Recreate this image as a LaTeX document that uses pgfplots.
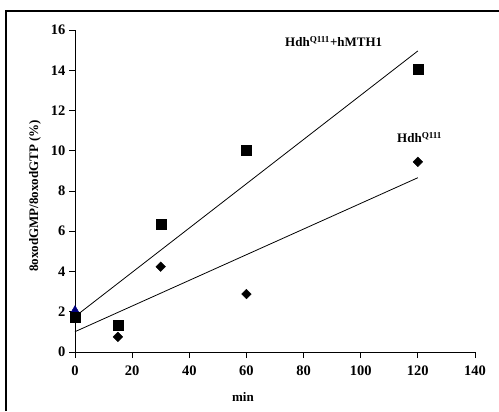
\documentclass[border=0pt]{standalone}
\usepackage{fontspec}
\setmainfont{Liberation Serif}
\usepackage{pgfplots}
\pgfplotsset{compat=1.18}
\definecolor{navyblue}{RGB}{0,0,128}
\begin{document}
\begin{tikzpicture}[x=1bp,y=1bp]
\useasboundingbox (0,0) rectangle (499,411);
\fill[white] (0,0) rectangle (499,411);
\draw[line width=2.3bp,black] (6.2,0) -- (6.2,400.3) -- (499,400.3);
\begin{axis}[
  at={(75bp,59bp)}, anchor=south west,
  scale only axis, width=400bp, height=322bp,
  xmin=0, xmax=140, ymin=0, ymax=16,
  axis lines=left, axis line style={-, line width=0.9bp},
  xtick={0,20,...,140}, ytick={0,2,...,16},
  tick align=outside, major tick length=6bp,
  tick style={black, line width=0.9bp},
  /pgf/number format/assume math mode=true,
  ticklabel style={font=\fontsize{14.5bp}{16bp}\selectfont\bfseries},
  xticklabel style={yshift=-4bp},
  xlabel={min}, ylabel={8oxodGMP/8oxodGTP (\%)},
  label style={font=\fontsize{13bp}{15bp}\selectfont\bfseries},
  xlabel style={at={(axis description cs:0.42,0)}, anchor=center, yshift=-45bp},
  ylabel style={at={(axis description cs:-0.1,0.485)}, anchor=center, rotate=0},
  clip=false,
]
% trend lines
\addplot[black, line width=0.8bp, no marks] coordinates {(0,1.76) (120,14.96)};
\addplot[black, line width=0.8bp, no marks] coordinates {(0,1.01) (120,8.66)};
% first point of HdhQ111 series (triangle)
\addplot[only marks, mark=triangle*, mark size=5.2bp, navyblue, mark options={fill=navyblue, draw=navyblue}] coordinates {(0,2.05)};
% HdhQ111 series
\addplot[only marks, mark=square*, mark size=3.4bp, black, mark options={rotate=45}] coordinates {(15,0.75) (30,4.24) (60,2.88) (120,9.45)};
% HdhQ111 + hMTH1 series
\addplot[only marks, mark=square*, mark size=5bp, black] coordinates {(0,1.75) (15,1.35) (30,6.35) (60,10.04) (120,14.05)};
\node[anchor=base west, inner sep=0, font=\fontsize{13bp}{15bp}\selectfont\bfseries] at (axis cs:73.5,15.16) {Hdh\textsuperscript{Q111}+hMTH1};
\node[anchor=base west, inner sep=0, font=\fontsize{13bp}{15bp}\selectfont\bfseries] at (axis cs:112.7,10.39) {Hdh\textsuperscript{Q111}};
\end{axis}
\end{tikzpicture}
\end{document}
